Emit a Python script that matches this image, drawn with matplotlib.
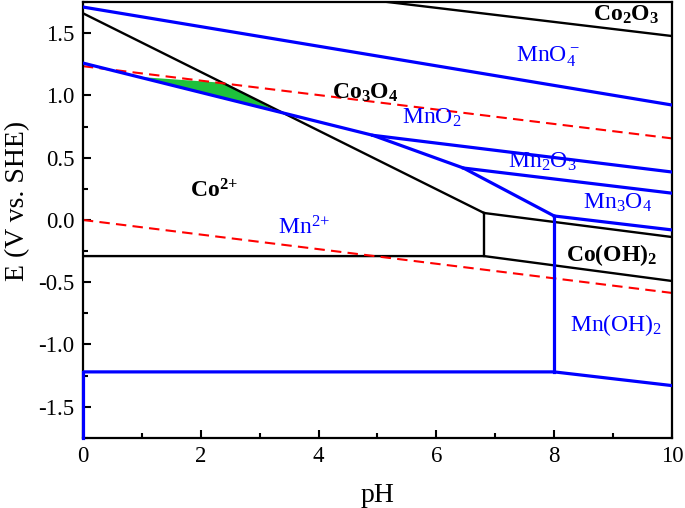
import numpy as np
import matplotlib.pyplot as plt
from matplotlib.ticker import MultipleLocator

plt.rcParams['font.family'] = 'Liberation Serif'
plt.rcParams['mathtext.fontset'] = 'custom'
plt.rcParams['mathtext.rm'] = 'Liberation Serif'
plt.rcParams['mathtext.bf'] = 'Liberation Serif:bold'
plt.rcParams['mathtext.default'] = 'regular'
plt.rcParams['axes.unicode_minus'] = False

# Co boundaries (pH, E)
co_ox_ph = [5.0, 10]
co_ox_E = [1.76, 1.477]
co_ion_ph = [0, 6.81]
co_ion_E = [1.66, 0.056]
co_hyd_ph = [6.81, 10]
co_hyd_E = [0.056, -0.137]
co_vert_ph = [6.81, 6.81]
co_vert_E = [0.056, -0.29]
co_metal_ph = [0, 6.81, 10]
co_metal_E = [-0.29, -0.29, -0.49]

# Mn boundaries
mn_top_ph = [0, 10]
mn_top_E = [1.71, 0.923]
mn_ion_ph = [0, 4.92, 6.46, 8.0]
mn_ion_E = [1.26, 0.68, 0.417, 0.032]
mno2_ph = [4.92, 10]
mno2_E = [0.68, 0.385]
mn2o3_ph = [6.46, 10]
mn2o3_E = [0.417, 0.215]
mn3o4_ph = [8.0, 10]
mn3o4_E = [0.032, -0.08]
mn_vert_ph = [8.0, 8.0]
mn_vert_E = [0.032, -1.22]
mn_metal_ph = [0, 8.0, 10]
mn_metal_E = [-1.22, -1.22, -1.33]
mn_left_ph = [0, 0]
mn_left_E = [-1.22, -1.75]

# water stability lines
o2_ph = [0, 10]
o2_E = [1.235, 0.655]
h2_ph = [0, 10]
h2_E = [0.0, -0.586]

# green region
green_ph = [0.97, 2.42, 3.27]
green_E = [1.148, 1.10, 0.877]

fig = plt.figure(figsize=(6.85, 5.08), dpi=100)
ax = fig.add_axes([0.121, 0.138, 0.860, 0.858])

ax.fill(green_ph, green_E, color='#1ec13c', lw=0, zorder=1)

blue = '#0000ff'
for x, y in [(mn_top_ph, mn_top_E), (mn_ion_ph, mn_ion_E), (mno2_ph, mno2_E),
             (mn2o3_ph, mn2o3_E), (mn3o4_ph, mn3o4_E), (mn_vert_ph, mn_vert_E),
             (mn_metal_ph, mn_metal_E)]:
    ax.plot(x, y, color=blue, lw=2.3, zorder=3, solid_joinstyle='miter')
ax.plot(mn_left_ph, mn_left_E, color=blue, lw=2.3, zorder=4, clip_on=False)

for x, y in [(co_ox_ph, co_ox_E), (co_ion_ph, co_ion_E), (co_hyd_ph, co_hyd_E),
             (co_vert_ph, co_vert_E), (co_metal_ph, co_metal_E)]:
    ax.plot(x, y, color='black', lw=1.7, zorder=2)

ax.plot(o2_ph, o2_E, color='red', lw=1.5, dashes=(5, 3), zorder=2)
ax.plot(h2_ph, h2_E, color='red', lw=1.5, dashes=(5, 3), zorder=2)

fs = 17
ax.text(9.22, 1.645, r'Co$_2$O$_3$', fontsize=fs, fontweight='bold', ha='center', va='center')
ax.text(4.8, 1.02, r'Co$_3$O$_4$', fontsize=fs, fontweight='bold', ha='center', va='center')
ax.text(8.97, -0.28, r'Co(OH)$_2$', fontsize=fs, fontweight='bold', ha='center', va='center')
ax.text(2.22, 0.23, r'Co$^{2{+}}$', fontsize=fs, fontweight='bold', ha='center', va='center')
ax.text(7.9, 1.31, r'MnO$_4^-$', fontsize=fs, color=blue, ha='center', va='center')
ax.text(5.92, 0.82, r'MnO$_2$', fontsize=fs, color=blue, ha='center', va='center')
ax.text(7.8, 0.47, r'Mn$_2$O$_3$', fontsize=fs, color=blue, ha='center', va='center')
ax.text(9.07, 0.14, r'Mn$_3$O$_4$', fontsize=fs, color=blue, ha='center', va='center')
ax.text(9.05, -0.84, r'Mn(OH)$_2$', fontsize=fs, color=blue, ha='center', va='center')
ax.text(3.76, -0.06, r'Mn$^{2{+}}$', fontsize=fs, color=blue, ha='center', va='center')

ax.set_xlim(0, 10)
ax.set_ylim(-1.75, 1.75)
ax.xaxis.set_major_locator(MultipleLocator(2))
ax.xaxis.set_minor_locator(MultipleLocator(1))
ax.yaxis.set_major_locator(MultipleLocator(0.5))
ax.yaxis.set_minor_locator(MultipleLocator(0.25))
ax.tick_params(which='both', direction='in', width=1.5, labelsize=16.5, top=False, right=False)
ax.tick_params(which='major', length=6, pad=6)
ax.tick_params(which='minor', length=3.5)
for s in ax.spines.values():
    s.set_linewidth(1.6)

ax.set_xlabel('pH', fontsize=20, labelpad=11)
ax.set_ylabel('E (V vs. SHE)', fontsize=20)
ax.yaxis.set_label_coords(-0.09, 0.544)

fig.savefig('out.png', dpi=100)
